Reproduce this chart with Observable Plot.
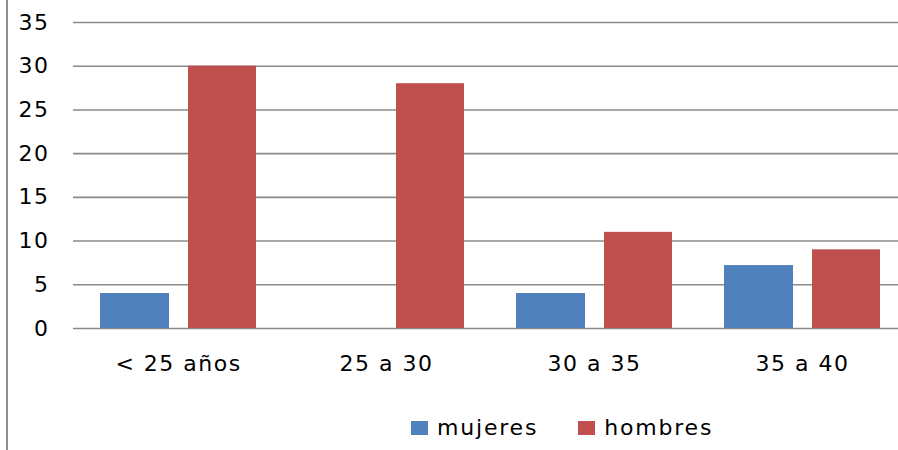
<!DOCTYPE html>
<html>
<head>
<meta charset="utf-8">
<script src="https://cdn.jsdelivr.net/npm/d3@7"></script>
<script src="https://cdn.jsdelivr.net/npm/@observablehq/plot@0.6"></script>
<style>
  html, body { margin: 0; padding: 0; background: #fff; }
  #wrap { position: relative; width: 898px; height: 450px; overflow: hidden; }
  #border { position: absolute; left: 6px; top: 0; width: 2px; height: 450px; background: #8f8f8f; }
  #chart svg { display: block; }
  #legend { position: absolute; top: 415px; left: 411px; font-family: "DejaVu Sans", sans-serif; font-size: 22px; letter-spacing: 1.8px; color: #000; display: flex; align-items: center; }
  .item { display: flex; align-items: center; margin-right: 40px; }
  .sw { width: 17px; height: 14px; margin-right: 9px; }
</style>
</head>
<body>
<div id="wrap">
  <div id="border"></div>
  <div id="chart"></div>
  <div id="legend"></div>
</div>
<script>
const categories = ["< 25 años", "25 a 30", "30 a 35", "35 a 40"];
const mujeres = [4, 0, 4, 7.2];
const hombres = [30, 28, 11, 9];
const yTicks = [0, 5, 10, 15, 20, 25, 30, 35];
const seriesNames = ["mujeres", "hombres"];
const seriesColors = ["#4F81BD", "#C0504D"];

const chart = Plot.plot({
  width: 898,
  height: 400,
  marginLeft: 73,
  marginRight: 0,
  marginTop: 22,
  marginBottom: 72,
  style: { fontFamily: "DejaVu Sans, sans-serif", fontSize: "22px", letterSpacing: "1.5px", color: "#000", background: "transparent" },
  x: { domain: categories, range: [74, 906], padding: 0, label: null },
  y: { domain: [0, 35], label: null },
  marks: [
    Plot.gridY(yTicks, { stroke: "#8a8a8a", strokeOpacity: 1, strokeWidth: 1.6 }),
    Plot.barY(categories, { x: d => d, y: (d, i) => mujeres[i], fill: seriesColors[0], insetLeft: 26, insetRight: 113 }),
    Plot.barY(categories, { x: d => d, y: (d, i) => hombres[i], fill: seriesColors[1], insetLeft: 114, insetRight: 26 }),
    Plot.axisY(yTicks, { tickSize: 0, tickPadding: 24, label: null, fill: "#000" }),
    Plot.axisX({ tickSize: 0, tickPadding: 27, label: null, fill: "#000" })
  ]
});
document.getElementById("chart").appendChild(chart);

const legend = document.getElementById("legend");
seriesNames.forEach((name, i) => {
  const item = document.createElement("div");
  item.className = "item";
  const sw = document.createElement("div");
  sw.className = "sw";
  sw.style.background = seriesColors[i];
  const label = document.createElement("span");
  label.textContent = name;
  item.appendChild(sw);
  item.appendChild(label);
  legend.appendChild(item);
});
</script>
</body>
</html>
